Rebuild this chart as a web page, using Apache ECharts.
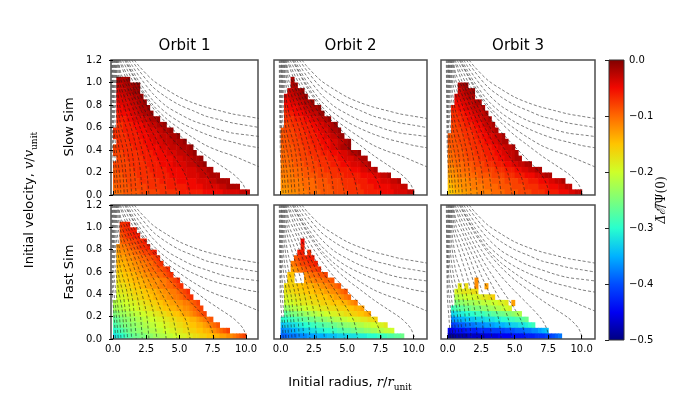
<!DOCTYPE html>
<html lang="en">
<head>
<meta charset="UTF-8">
<title>Energy change maps</title>
<script src="https://cdn.jsdelivr.net/npm/echarts@6/dist/echarts.min.js"></script>
<style>
    *{ margin: 0; padding: 0; }
    #chart{ width: 700px; height: 400px; background: #fff; }
</style>
</head>
<body>
<div id="chart"></div>
<script>
    // map cells are 0.25 wide in r and 0.05 tall in v
    var DR = 0.25, DV = 0.05;
    // one letter per cell: a = 0.00, b = -0.01, ... Y = -0.50, '.' = no data
    var CODES = 'abcdefghijklmnopqrstuvwxyzABCDEFGHIJKLMNOPQRSTUVWXY';

    var orbitNames = ['Orbit 1', 'Orbit 2', 'Orbit 3'];
    var simNames = ['Slow Sim', 'Fast Sim'];
    var xTicks = [0, 2.5, 5, 7.5, 10];

    // rows go from top (v 1.15-1.20) down to bottom (v 0-0.05), columns from r = 0
    var slowOrbit1 = [
        '', '', '',
        '.cccb',
        '.ddcccbb',
        '.eddccbb',
        '.eedddccb',
        '.feeeddccb',
        '.ffeeeddccb',
        '.gfffeeddccb',
        '.gggffeeeddccb',
        '.hhgggfffeeddccb',
        'hhhggggfffeeeddccb',
        'hhhhggggfffeeedddccb',
        '.hhhhggggfffeeedddcccb',
        'ihhhhhggggffffeeedddcccb',
        'iiihhhhhggggffffeeedddccb',
        '.iiihhhhhggggfffffeeedddccb',
        'iiiiihhhhhggggffffeeeedddccb',
        'jiiiiihhhhhgggggfffffeeeedddcc',
        'jjjiiiihhhhhgggggfffffeeeedddccc',
        'jjjjiiiihhhhhhgggggffffffeeeeddcccc',
        'kjjjjiiiiihhhhhhggggggfffffeeeeeddcccc',
        'kkkjjjjjiiiiiihhhhhhgggggggffffffeeeeeddd'
    ];
    var slowOrbit2 = [
        '', '', '',
        '...c',
        '...cc',
        '..ddccb',
        '.eeddccb',
        '.ffeeddccb',
        '.gfffeeddccb',
        '.hggfffeeddcb',
        '.hhhgggffeeddcb',
        '.iihhhgggffeeddcb',
        'jiiihhhgggffeedccb',
        'jjiiihhhgggffeeddcb',
        'jjjiiihhhgggfffeeddcb',
        'kjjjiiihhhgggffeedccb',
        'kkjjjiiihhhhgggfffeedccb',
        'kkkjjjiiiihhhhgggffeeeddcc',
        'lkkkjjjiiiihhhhgggfffeeeddc',
        'lllkkkjjjiiiihhhhggggfffeeddc',
        'llllkkkjjjjiiiihhhhgggggffffeeddc',
        'mmllllkkkkjjjjiiiihhhhggggffffeeeddc',
        'mmmllllkkkkjjjjiiiihhhhhggggfffffeeedd',
        'nnmmmlllkkkkjjjjiiiihhhhhgggggffffeeeedd'
    ];
    var slowOrbit3 = [
        '', '', '', '',
        '...ccb',
        '...ddccb',
        '..eeddcc',
        '..ffeeddcc',
        '.ggffeedddc',
        '.hhggffeeddc',
        '.hhhggffeeddc',
        '.iihhgggffeddc',
        '.iiihhhggffeddc',
        'jjiiihhhggffeeddc',
        'jjjiiihhhggffeedcc',
        'kjjjiiihhhgggffeeddc',
        'kkjjjiiihhhgggffeeddc',
        'lkkjjjiiihhhgggffeedcc',
        'llkkkjjjiiihhhgggffeeddcc',
        'mmllkkkjjjiiiihhhgggffeeddcc',
        'nmmlllkkkjjjjiiiihhhgggfffeedcc',
        'onnmmmlllkkkkjjjjiiiihhhgggfffeeddc',
        'ponnmmmllllkkkkjjjjiiiihhhhgggfffeedd',
        'qpoonnmmmllllkkkkjjjjiiiihhhhggggfffeedd'
    ];
    var fastOrbit1 = [
        '', '', '',
        '..hhg',
        '..ihhgg',
        '..jihhgg',
        '..kjjiihhg',
        '.mllkjjihhg',
        '.nmmllkkjiihg',
        '.onnmmllkkjjih',
        '.ooonnmmllkkjih',
        '.ppoonnmmllkkjjih',
        '.qqppoonnmmllkkjih',
        '.rqqppooonnmmmllkjih',
        '.srrqqppoonnmmllkkjih',
        '.tssrrqqqppoonnmmllkjih',
        '.uttssrrqqppoonnmmllkjih',
        'wvvuuttssrrqqppoonnmmllkji',
        'xwwvvuuttssrrqqppoonnmmlkji',
        'zyxxwwvvuuttssrrqqpponnmlkji',
        'BAzyyxxwwvvuuttssrrqqppoonmlkj',
        'CBAzzyyxxwwvvuuttssrrqqppoonmlkj',
        'EDCBAzzyyxxwwvvuuttssrrqqppoonmlkji',
        'GFEDCBAAzzyyxxwwvvuuttssrrqqppoonnmmlkji'
    ];
    var fastOrbit2 = [
        '', '', '', '', '', '',
        '......f',
        '......g',
        '.....gg.h',
        '....jihhgg',
        '...lkjiihhg',
        '...nmlkjjiih',
        '..pp...mlkkjji',
        '..qq...nmmlllkkj',
        '.rqqqppooonnmmllkj',
        '.srrqqqpppooonnmmlkj',
        '.ttssrrrqqqpppoonnmlk',
        '.vuuttsssrrrqqqpppoonml',
        '.yxwwvvuuttsssrrrqqqppoon',
        '.BAzzyyxxwwvvuuttssrrqqppon',
        'EEDDCCBBAAzzyyxxwwvvuuttssrrq',
        'IHHGGFFEEDDCCBBAAzzyyxxwwvvuutts',
        'LKKJJIIHHGGFFEEDDCCBBAAzzyyxxwwvvu',
        'NNMMMLLLKKKJJJIIIHHHGGGFFFEEEDDDCCBBA'
    ];
    var fastOrbit3 = [
        '', '', '', '', '', '', '', '', '', '', '', '', '',
        '........m',
        '...s.r..m..n',
        '..ttsssrr',
        '..wvvuuuttssrq',
        '..zyyxxxwwvvvuutts.n',
        '.DCBBAAzzzyyxxwwvut',
        '.HGFFEEEDDDCCBBAAzzyxw',
        '.LKJJIIIHHHGGGFFEEDDCCBA',
        '.PONNMMMLLLKKKJJJIIHHGGFED',
        'TTSSSRRRRQQQQPPPPOOONNNMMLLKJI',
        'XXWWWWVVVVVUUUUTTTTSSSSRRRQQQPPONM'
    ];

    // dashed reference curves; the same in every panel
    var outerCurves = [
        [[1.6,1.2],[2,1.14],[3,1.02],[4,0.94],[5,0.87],[6,0.82],[7,0.78],[8,0.75],[9,0.72],[10,0.70],[11,0.68]],
        [[1.4,1.2],[2,1.1],[3,0.96],[4,0.87],[5,0.8],[6,0.75],[7,0.7],[8,0.67],[9,0.64],[10,0.62],[11,0.60]],
        [[1.2,1.2],[1.5,1.14],[2,1.05],[3,0.9],[4,0.79],[5,0.72],[6,0.66],[7,0.62],[8,0.58],[9,0.55],[10,0.535],[11,0.52]],
        [[1.05,1.2],[1.5,1.1],[2,1.0],[3,0.84],[4,0.73],[5,0.65],[6,0.59],[7,0.54],[8,0.5],[9,0.47],[10,0.44],[11,0.42]],
        [[0.95,1.2],[1.5,1.07],[2,0.97],[3,0.8],[4,0.68],[5,0.59],[6,0.51],[7,0.44],[8,0.39],[9,0.35],[10,0.3],[11,0.25]]
    ];
    var innerCurves = [
        [[0.87,1.2],[1,1.17],[1.5,1.06],[2,0.95],[2.5,0.86],[3,0.775],[4,0.64],[5,0.53],[6,0.44],[7,0.35],[8,0.27],[9,0.19],[9.5,0.135],[9.8,0.09],[10.1,0]],
        [[0.7,1.2],[1,1.13],[1.5,1.01],[2,0.9],[2.5,0.8],[3,0.71],[4,0.56],[5,0.43],[6,0.31],[7,0.18],[7.4,0.09],[7.6,0]],
        [[0.55,1.2],[1,1.08],[1.5,0.96],[2,0.84],[2.5,0.73],[3,0.63],[4,0.45],[5,0.27],[5.5,0.16],[5.8,0]],
        [[0.48,1.2],[1,1.03],[1.5,0.9],[2,0.78],[2.5,0.66],[3,0.55],[3.5,0.44],[4,0.33],[4.5,0.19],[4.8,0]],
        [[0.42,1.2],[0.6,1.08],[1,0.98],[1.5,0.84],[2,0.71],[2.5,0.57],[3,0.44],[3.5,0.29],[3.8,0.18],[4,0]],
        [[0.37,1.2],[0.6,1.02],[1,0.91],[1.5,0.77],[2,0.61],[2.5,0.45],[3,0.26],[3.3,0]],
        [[0.32,1.2],[0.5,1.0],[1,0.83],[1.5,0.67],[2,0.48],[2.5,0.24],[2.7,0]],
        [[0.27,1.2],[0.4,0.98],[1,0.73],[1.5,0.54],[2,0.27],[2.2,0]],
        [[0.22,1.2],[0.32,0.95],[0.6,0.74],[1,0.6],[1.25,0.48],[1.5,0.33],[1.75,0]],
        [[0.17,1.2],[0.25,0.9],[0.55,0.64],[1,0.45],[1.25,0.27],[1.4,0]],
        [[0.12,1.2],[0.19,0.8],[0.45,0.56],[0.8,0.38],[1.1,0]],
        [[0.07,1.2],[0.13,0.7],[0.4,0.45],[0.7,0.25],[0.85,0]],
        [[0.02,1.2],[0.07,0.6],[0.3,0.35],[0.5,0.18],[0.6,0]],
        [[-0.04,1.2],[0.02,0.5],[0.2,0.28],[0.4,0]],
        [[-0.1,1.2],[-0.03,0.4],[0.1,0.18],[0.2,0]]
    ];

    // jet colour map, low to high
    var jet = ['#000080','#0000f2','#004cff','#00b2ff','#29ffce','#7dff7a','#ceff29','#ffc400','#ff6800','#f10800','#800000'];

    var panels = [slowOrbit1, slowOrbit2, slowOrbit3, fastOrbit1, fastOrbit2, fastOrbit3];

    function cellsFrom(rows) {
        var out = [];
        rows.forEach(function (row, i) {
            var v = (rows.length - 1 - i) * DV;
            for (var c = 0; c < row.length; c++) {
                var k = CODES.indexOf(row[c]);
                if (k < 0) continue;
                out.push([c * DR, v, -k / 100]);
            }
        });
        return out;
    }

    function renderCell(params, api) {
        var a = api.coord([api.value(0), api.value(1) + DV]);
        var b = api.coord([api.value(0) + DR, api.value(1)]);
        return {
            type: 'rect',
            shape: { x: a[0], y: a[1], width: b[0] - a[0] + 0.6, height: b[1] - a[1] + 0.6 },
            style: { fill: api.visual('color') }
        };
    }

    function fmtMinus(v) {
        return (v < 0 ? '\u2212' : '') + Math.abs(v).toFixed(1);
    }

    var chart = echarts.init(document.getElementById('chart'));

    // panel boxes in pixels, then the colour bar
    var colLeft = [111, 274, 441], colWidth = [147, 153, 154];
    var rowTop = [60, 205], rowHeight = [135, 134];
    var colXMin = [-0.15, -0.5, -0.5], colXMax = [10.9, 11, 11];

    var grids = [], xAxes = [], yAxes = [], series = [];
    for (var p = 0; p < 6; p++) {
        var row = Math.floor(p / 3), col = p % 3;
        grids.push({
            left: colLeft[col], top: rowTop[row], width: colWidth[col], height: rowHeight[row],
            show: true, borderColor: '#4d4d4d', borderWidth: 1.5, backgroundColor: 'transparent', z: 5
        });
        xAxes.push({
            gridIndex: p, type: 'value', min: colXMin[col], max: colXMax[col],
            axisLine: { show: false }, splitLine: { show: false },
            axisTick: { show: true, inside: true, length: 4, customValues: xTicks, lineStyle: { color: '#000', width: 1 } },
            axisLabel: { show: row === 1, customValues: xTicks, fontSize: 10, color: '#000', margin: 5,
                formatter: function (v) { return v.toFixed(1); } },
            z: 6
        });
        yAxes.push({
            gridIndex: p, type: 'value', min: 0, max: 1.2, interval: 0.2,
            axisLine: { show: false }, splitLine: { show: false },
            axisTick: { show: col === 0, length: 4, lineStyle: { color: '#000', width: 1 } },
            axisLabel: { show: col === 0, fontSize: 10, color: '#000', margin: 9,
                formatter: function (v) { return v.toFixed(1); } },
            z: 6
        });
        series.push({
            type: 'custom', xAxisIndex: p, yAxisIndex: p, renderItem: renderCell,
            data: cellsFrom(panels[p]), encode: { x: 0, y: 1 }, clip: true, silent: true, z: 2
        });
    }
    for (p = 0; p < 6; p++) {
        outerCurves.concat(innerCurves).forEach(function (pts) {
            series.push({
                type: 'line', xAxisIndex: p, yAxisIndex: p, data: pts, showSymbol: false, smooth: 0.3,
                silent: true, clip: true, z: 3,
                lineStyle: { color: '#1a1a1a', width: 0.8, type: [3, 2], opacity: 0.7 }
            });
        });
    }

    // colour bar axis
    grids.push({ left: 609, top: 60, width: 15, height: 280, show: false });
    xAxes.push({ gridIndex: 6, type: 'value', show: false, min: 0, max: 1 });
    yAxes.push({
        gridIndex: 6, type: 'value', position: 'right', min: -0.5, max: 0, interval: 0.1,
        axisLine: { show: false }, splitLine: { show: false },
        axisTick: { inside: true, length: 4, lineStyle: { color: '#222' } },
        axisLabel: { fontSize: 10, color: '#000', margin: 5, formatter: fmtMinus },
        z: 10
    });

    var barStops = jet.map(function (c, i) { return { offset: 1 - i / (jet.length - 1), color: c }; });
    var labelFont = { fontSize: 13, fontFamily: 'DejaVu Sans', fill: '#000', textAlign: 'center', textVerticalAlign: 'middle' };
    function textStyle(extra) { return Object.assign({}, labelFont, extra); }
    var mathRich = {
        i: { fontStyle: 'italic', fontSize: 13, fontFamily: 'DejaVu Serif', lineHeight: 18 },
        s: { fontSize: 9, fontFamily: 'DejaVu Serif', verticalAlign: 'bottom', lineHeight: 10 }
    };

    var option = {
        animation: false,
        backgroundColor: '#fff',
        textStyle: { fontFamily: 'DejaVu Sans' },
        grid: grids,
        xAxis: xAxes,
        yAxis: yAxes,
        visualMap: {
            type: 'continuous', show: false, min: -0.5, max: 0, dimension: 2,
            seriesIndex: [0, 1, 2, 3, 4, 5], inRange: { color: jet }
        },
        graphic: [
            { type: 'rect', z: 1, shape: { x: 609, y: 60, width: 15, height: 280 },
              style: { fill: new echarts.graphic.LinearGradient(0, 0, 0, 1, barStops.reverse()), stroke: '#333', lineWidth: 1 } },
            { type: 'text', x: 184.5, y: 46, style: textStyle({ text: orbitNames[0], fontSize: 15 }) },
            { type: 'text', x: 350.5, y: 46, style: textStyle({ text: orbitNames[1], fontSize: 15 }) },
            { type: 'text', x: 518, y: 46, style: textStyle({ text: orbitNames[2], fontSize: 15 }) },
            { type: 'text', x: 70, y: 127, rotation: Math.PI / 2, style: textStyle({ text: simNames[0] }) },
            { type: 'text', x: 70, y: 272, rotation: Math.PI / 2, style: textStyle({ text: simNames[1] }) },
            { type: 'text', x: 30, y: 200, rotation: Math.PI / 2, style: textStyle({
                text: 'Initial velocity, {i|v}/{i|v}{s|unit}', lineHeight: 18, rich: mathRich }) },
            { type: 'text', x: 350, y: 383, style: textStyle({
                text: 'Initial radius, {i|r}/{i|r}{s|unit}', lineHeight: 18, rich: mathRich }) },
            { type: 'text', x: 662, y: 200, rotation: Math.PI / 2, style: textStyle({
                text: '{i|\u0394\u0305\u2130\u0305}/\u03a8(0)', fontSize: 12, fontFamily: 'DejaVu Serif',
                rich: { i: { fontStyle: 'italic', fontSize: 12, fontFamily: 'DejaVu Serif' } } }) }
        ],
        series: series
    };
    chart.setOption(option);
</script>
</body>
</html>
